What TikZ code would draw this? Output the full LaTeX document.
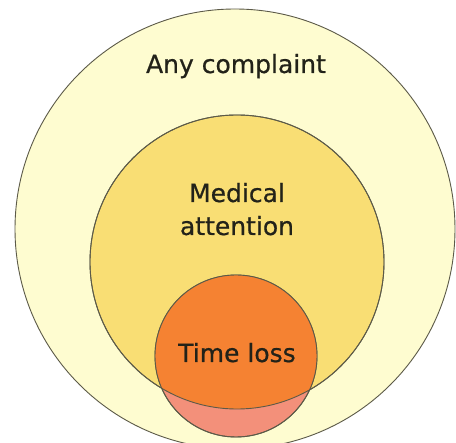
\documentclass[tikz,border=0pt]{standalone}
\usepackage{fontspec}
\setmainfont{DejaVu Sans}
\newfontfamily\labfont{DejaVu Sans}[FakeBold=0.6]
\definecolor{outerfill}{HTML}{FEFCD0}
\definecolor{midfill}{HTML}{F9DE74}
\definecolor{smallfill}{HTML}{F58232}
\definecolor{lowfill}{HTML}{F3907A}
\definecolor{edge}{HTML}{5C5A48}
\definecolor{txt}{HTML}{222219}
\begin{document}
\begin{tikzpicture}[x=1pt,y=-1pt,
  ring/.style={circle, draw=edge, line width=0.9pt, inner sep=0pt},
  lab/.style={font=\labfont\fontsize{25}{30}\selectfont, text=txt, align=center, inner sep=0pt}]
\useasboundingbox (0,0) rectangle (456,443);
\fill[white] (0,0) rectangle (456,443);
\node[ring, fill=outerfill, minimum size=440pt] (outer) at (235,229) {};
\node[ring, fill=midfill, minimum size=294pt] (mid) at (237,262) {};
\node[ring, fill=lowfill, minimum size=162pt] (small) at (236,356) {};
\begin{scope}
  \clip (mid.center) circle (147pt);
  \fill[smallfill] (small.center) circle (81pt);
\end{scope}
\draw[edge, line width=0.9pt] (mid.center) circle (147pt);
\draw[edge, line width=0.9pt] (small.center) circle (81pt);
\node[lab, anchor=base] (any) at (236,73) {Any complaint};
\node[lab, anchor=base] (med) at (237,202) {Medical};
\node[lab, anchor=base] (att) at (237,235) {attention};
\node[lab, anchor=base] (time) at (237,362) {Time loss};
\end{tikzpicture}
\end{document}
